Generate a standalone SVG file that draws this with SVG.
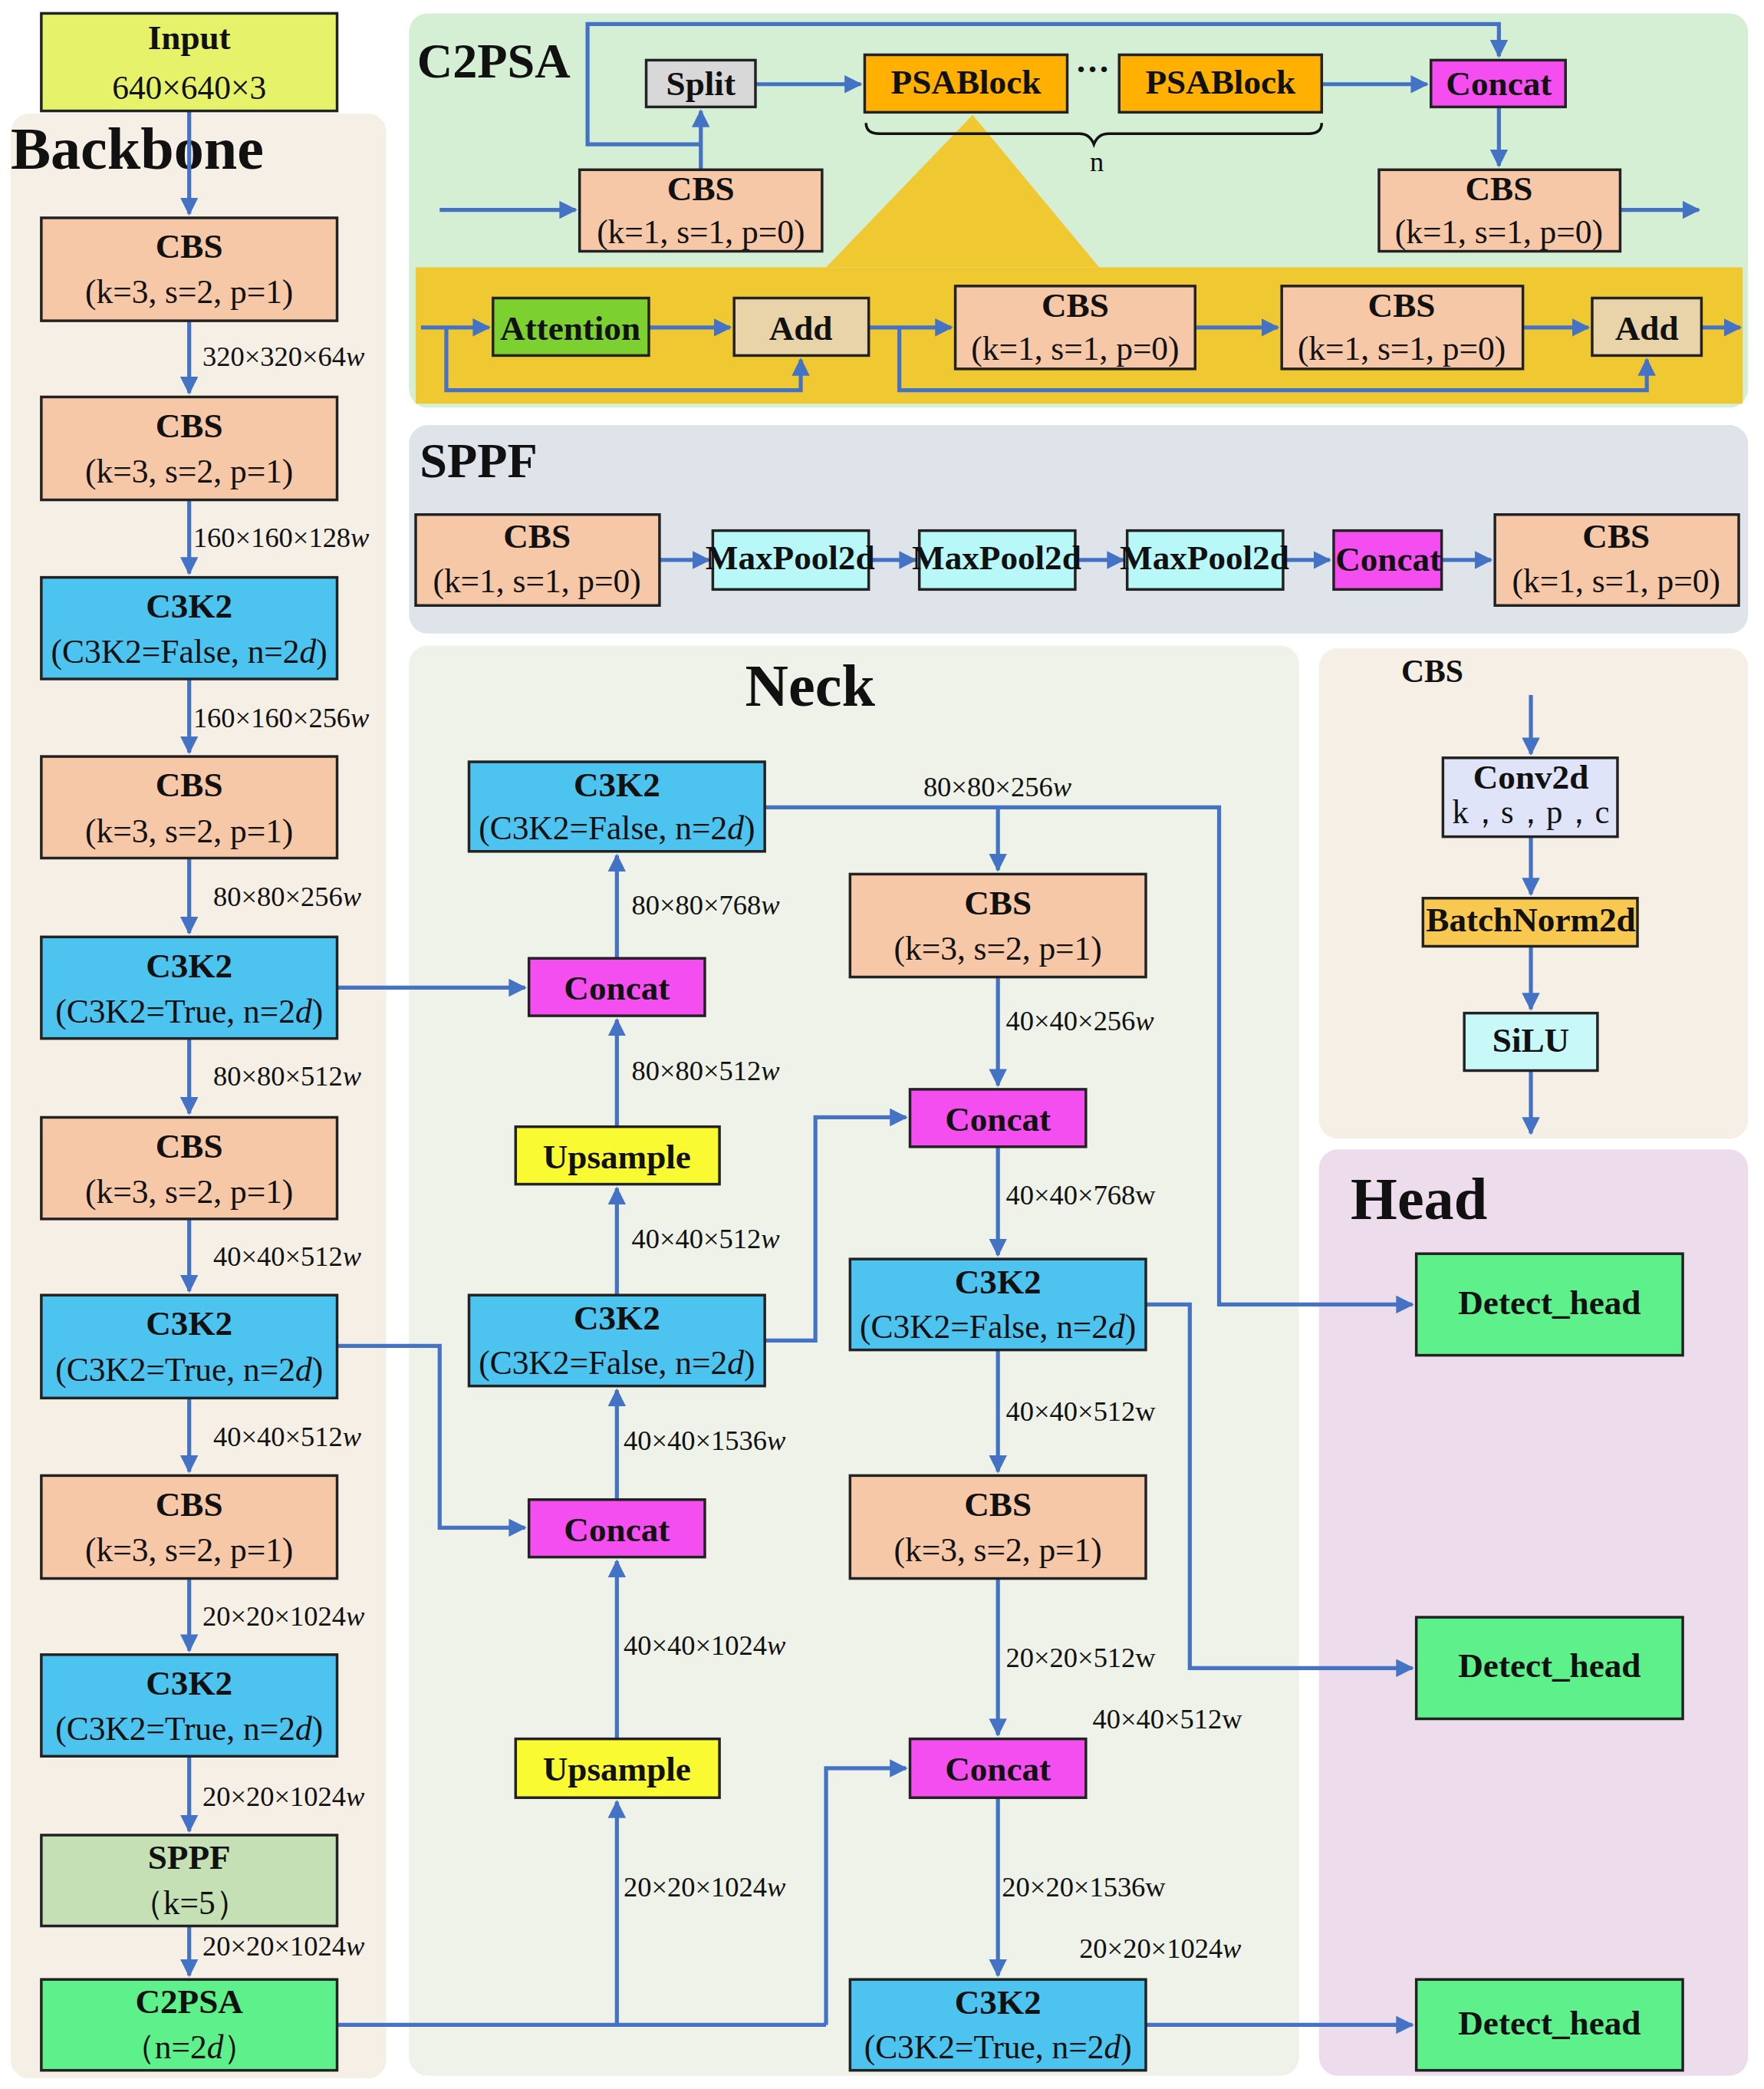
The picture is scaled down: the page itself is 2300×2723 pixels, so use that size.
<svg xmlns="http://www.w3.org/2000/svg" width="2300" height="2723" viewBox="0 0 2300 2723">
<defs>
<marker id="ah" viewBox="0 0 10 10" refX="9" refY="5" markerWidth="4.5" markerHeight="4.5" orient="auto"><path d="M0,0L10,5L0,10z" fill="#4472c4"/></marker>
<style>
.n{stroke:#222;stroke-width:2}
.t{font-family:"Liberation Serif","Times New Roman",serif;font-weight:bold;font-size:26px;text-anchor:middle;fill:#111}
.p{font-family:"Liberation Serif","Times New Roman",serif;font-size:25px;text-anchor:middle;fill:#111}
.l{font-family:"Liberation Serif","Times New Roman",serif;font-size:21px;fill:#111}
.h{font-family:"Liberation Serif","Times New Roman",serif;font-weight:bold;fill:#111}
.c{fill:none;stroke:#4472c4;stroke-width:3}
.a{marker-end:url(#ah)}
.cbs{fill:#f7c8a8}.c3{fill:#4dc3ef}.cat{fill:#f54ef0}.ups{fill:#fafa32}.det{fill:#5ef08a}
</style>
</defs>
<rect width="2300" height="2723" fill="#fff"/>
<g transform="scale(1.7372,1.7422)">
<g id="panels">
<rect x="8" y="85" width="282" height="1470" rx="14" fill="#f5efe6"/>
<rect x="307" y="10" width="1005" height="295" rx="14" fill="#d5efd5"/>
<rect x="312" y="200" width="996" height="102" fill="#f0c832"/>
<path d="M730,86L620,200H825z" fill="#f0c832"/>
<rect x="307" y="318" width="1005" height="156" rx="14" fill="#dfe3ea"/>
<rect x="307" y="483" width="668" height="1070" rx="14" fill="#eef2e8"/>
<rect x="990" y="485" width="322" height="367" rx="14" fill="#f5efe6"/>
<rect x="990" y="860" width="322" height="693" rx="14" fill="#ecdcec"/>
<text class="h" x="8" y="126" font-size="45">Backbone</text>
<text class="h" x="313" y="58" font-size="37">C2PSA</text>
<text class="h" x="315" y="357" font-size="37">SPPF</text>
<text class="h" x="608" y="528" font-size="45" text-anchor="middle">Neck</text>
<text class="h" x="1065" y="912" font-size="45" text-anchor="middle">Head</text>
<text class="h" x="1075" y="510" font-size="24" text-anchor="middle">CBS</text>
</g>
<g id="connectors">
<path class="c a" d="M142,83V160"/>
<path class="c a" d="M142,240V294"/>
<path class="c a" d="M142,374V429"/>
<path class="c a" d="M142,508V563"/>
<path class="c a" d="M142,642V698"/>
<path class="c a" d="M142,777V833"/>
<path class="c a" d="M142,912V966"/>
<path class="c a" d="M142,1046V1101"/>
<path class="c a" d="M142,1181V1235"/>
<path class="c a" d="M142,1314V1370"/>
<path class="c a" d="M142,1441V1478"/>
<path class="c a" d="M253,739H394"/>
<path class="c a" d="M253,1007H330V1143H394"/>
<path class="c" d="M253,1515H620"/>
<path class="c a" d="M463,1515V1348"/>
<path class="c a" d="M620,1515V1323H680"/>
<path class="c a" d="M463,1301V1168"/>
<path class="c a" d="M463,1122V1040"/>
<path class="c a" d="M463,969V889"/>
<path class="c a" d="M463,843V763"/>
<path class="c a" d="M463,717V640"/>
<path class="c a" d="M574,604H915V976H1060"/>
<path class="c a" d="M749,604V651"/>
<path class="c a" d="M574,1003H612V836H680"/>
<path class="c a" d="M749,731V812"/>
<path class="c a" d="M749,858V939"/>
<path class="c a" d="M860,976H893V1248H1060"/>
<path class="c a" d="M749,1010V1101"/>
<path class="c a" d="M749,1181V1298"/>
<path class="c a" d="M749,1345V1478"/>
<path class="c a" d="M860,1515H1060"/>
<path class="c a" d="M1149,520V564"/>
<path class="c a" d="M1149,626V669"/>
<path class="c a" d="M1149,708V755"/>
<path class="c a" d="M1149,801V848"/>
<path class="c a" d="M495,419H532"/>
<path class="c a" d="M652,419H687"/>
<path class="c a" d="M807,419H843"/>
<path class="c a" d="M963,419H998"/>
<path class="c a" d="M1082,419H1119"/>
<path class="c a" d="M330,157H432"/>
<path class="c a" d="M526,127V83"/>
<path class="c a" d="M526,108H441V18H1125V42"/>
<path class="c a" d="M567,63H646"/>
<path class="c a" d="M992,63H1071"/>
<path class="c a" d="M1125,80V124"/>
<path class="c a" d="M1216,157H1275"/>
<path d="M650,92Q650,100 660,100H810Q818,100 821,108Q824,100 832,100H982Q992,100 992,92" fill="none" stroke="#111" stroke-width="2"/>
<path class="c a" d="M316,245H367"/>
<path class="c a" d="M335,245V292H601V269"/>
<path class="c a" d="M487,245H548"/>
<path class="c a" d="M652,245H714"/>
<path class="c a" d="M675,245V292H1236V269"/>
<path class="c a" d="M897,245H959"/>
<path class="c a" d="M1143,245H1192"/>
<path class="c a" d="M1277,245H1306"/>
</g>
<g id="labels">
<text class="l" x="152" y="274">320×320×64<tspan font-style="italic">w</tspan></text>
<text class="l" x="145" y="409">160×160×128<tspan font-style="italic">w</tspan></text>
<text class="l" x="145" y="544">160×160×256<tspan font-style="italic">w</tspan></text>
<text class="l" x="160" y="678">80×80×256<tspan font-style="italic">w</tspan></text>
<text class="l" x="160" y="812">80×80×512<tspan font-style="italic">w</tspan></text>
<text class="l" x="160" y="947">40×40×512<tspan font-style="italic">w</tspan></text>
<text class="l" x="160" y="1082">40×40×512<tspan font-style="italic">w</tspan></text>
<text class="l" x="152" y="1216">20×20×1024<tspan font-style="italic">w</tspan></text>
<text class="l" x="152" y="1351">20×20×1024<tspan font-style="italic">w</tspan></text>
<text class="l" x="152" y="1463">20×20×1024<tspan font-style="italic">w</tspan></text>
<text class="l" x="474" y="684">80×80×768<tspan font-style="italic">w</tspan></text>
<text class="l" x="474" y="808">80×80×512<tspan font-style="italic">w</tspan></text>
<text class="l" x="474" y="934">40×40×512<tspan font-style="italic">w</tspan></text>
<text class="l" x="468" y="1085">40×40×1536<tspan font-style="italic">w</tspan></text>
<text class="l" x="468" y="1238">40×40×1024<tspan font-style="italic">w</tspan></text>
<text class="l" x="468" y="1419">20×20×1024<tspan font-style="italic">w</tspan></text>
<text class="l" x="693" y="596">80×80×256<tspan font-style="italic">w</tspan></text>
<text class="l" x="755" y="771">40×40×256<tspan font-style="italic">w</tspan></text>
<text class="l" x="755" y="901">40×40×768w</text>
<text class="l" x="755" y="1063">40×40×512w</text>
<text class="l" x="755" y="1247">20×20×512w</text>
<text class="l" x="820" y="1293">40×40×512w</text>
<text class="l" x="752" y="1419">20×20×1536w</text>
<text class="l" x="810" y="1465">20×20×1024<tspan font-style="italic">w</tspan></text>
<text class="l" x="818" y="128">n</text>
<text class="t" x="820" y="60">···</text>
</g>
<g id="input"><rect class="n" x="31" y="10" width="222" height="73" fill="#e6f26a"/><text class="t" x="142" y="37">Input</text><text class="p" x="142" y="74">640×640×3</text></g>
<g id="b1"><rect class="n cbs" x="31" y="163" width="222" height="77"/><text class="t" x="142" y="193">CBS</text><text class="p" x="142" y="227">(k=3, s=2, p=1)</text></g>
<g id="b2"><rect class="n cbs" x="31" y="297" width="222" height="77"/><text class="t" x="142" y="327">CBS</text><text class="p" x="142" y="361">(k=3, s=2,  p=1)</text></g>
<g id="b3"><rect class="n c3" x="31" y="432" width="222" height="76"/><text class="t" x="142" y="462">C3K2</text><text class="p" x="142" y="496" font-size="23">(C3K2=False, n=2<tspan font-style="italic">d</tspan>)</text></g>
<g id="b4"><rect class="n cbs" x="31" y="566" width="222" height="76"/><text class="t" x="142" y="596">CBS</text><text class="p" x="142" y="630">(k=3, s=2, p=1)</text></g>
<g id="b5"><rect class="n c3" x="31" y="701" width="222" height="76"/><text class="t" x="142" y="731">C3K2</text><text class="p" x="142" y="765" font-size="23">(C3K2=True, n=2<tspan font-style="italic">d</tspan>)</text></g>
<g id="b6"><rect class="n cbs" x="31" y="836" width="222" height="76"/><text class="t" x="142" y="866">CBS</text><text class="p" x="142" y="900">(k=3, s=2, p=1)</text></g>
<g id="b7"><rect class="n c3" x="31" y="969" width="222" height="77"/><text class="t" x="142" y="999">C3K2</text><text class="p" x="142" y="1033" font-size="23">(C3K2=True, n=2<tspan font-style="italic">d</tspan>)</text></g>
<g id="b8"><rect class="n cbs" x="31" y="1104" width="222" height="77"/><text class="t" x="142" y="1134">CBS</text><text class="p" x="142" y="1168">(k=3, s=2, p=1)</text></g>
<g id="b9"><rect class="n c3" x="31" y="1238" width="222" height="76"/><text class="t" x="142" y="1268">C3K2</text><text class="p" x="142" y="1302" font-size="23">(C3K2=True, n=2<tspan font-style="italic">d</tspan>)</text></g>
<g id="b10"><rect class="n" x="31" y="1373" width="222" height="68" fill="#c5e0b4"/><text class="t" x="142" y="1398">SPPF</text><text class="p" x="142" y="1432">（k=5）</text></g>
<g id="b11"><rect class="n det" x="31" y="1481" width="222" height="68"/><text class="t" x="142" y="1506">C2PSA</text><text class="p" x="142" y="1540">（n=2<tspan font-style="italic">d</tspan>）</text></g>
<g id="n1"><rect class="n c3" x="352" y="570" width="222" height="67"/><text class="t" x="463" y="596">C3K2</text><text class="p" x="463" y="628" font-size="23">(C3K2=False, n=2<tspan font-style="italic">d</tspan>)</text></g>
<g id="n2"><rect class="n cat" x="397" y="717" width="132" height="43"/><text class="t" x="463" y="748">Concat</text></g>
<g id="n3"><rect class="n ups" x="387" y="843" width="153" height="43"/><text class="t" x="463" y="874">Upsample</text></g>
<g id="n4"><rect class="n c3" x="352" y="969" width="222" height="68"/><text class="t" x="463" y="995">C3K2</text><text class="p" x="463" y="1028" font-size="23">(C3K2=False, n=2<tspan font-style="italic">d</tspan>)</text></g>
<g id="n5"><rect class="n cat" x="397" y="1122" width="132" height="43"/><text class="t" x="463" y="1153">Concat</text></g>
<g id="n6"><rect class="n ups" x="387" y="1301" width="153" height="44"/><text class="t" x="463" y="1332">Upsample</text></g>
<g id="n7"><rect class="n cbs" x="638" y="654" width="222" height="77"/><text class="t" x="749" y="684">CBS</text><text class="p" x="749" y="718">(k=3, s=2, p=1)</text></g>
<g id="n8"><rect class="n cat" x="683" y="815" width="132" height="43"/><text class="t" x="749" y="846">Concat</text></g>
<g id="n9"><rect class="n c3" x="638" y="942" width="222" height="68"/><text class="t" x="749" y="968">C3K2</text><text class="p" x="749" y="1001" font-size="23">(C3K2=False, n=2<tspan font-style="italic">d</tspan>)</text></g>
<g id="n10"><rect class="n cbs" x="638" y="1104" width="222" height="77"/><text class="t" x="749" y="1134">CBS</text><text class="p" x="749" y="1168">(k=3, s=2, p=1)</text></g>
<g id="n11"><rect class="n cat" x="683" y="1301" width="132" height="44"/><text class="t" x="749" y="1332">Concat</text></g>
<g id="n12"><rect class="n c3" x="638" y="1481" width="222" height="68"/><text class="t" x="749" y="1507">C3K2</text><text class="p" x="749" y="1540" font-size="23">(C3K2=True, n=2<tspan font-style="italic">d</tspan>)</text></g>
<g id="h1"><rect class="n det" x="1063" y="938" width="200" height="76"/><text class="t" x="1163" y="983">Detect_head</text></g>
<g id="h2"><rect class="n det" x="1063" y="1210" width="200" height="76"/><text class="t" x="1163" y="1255">Detect_head</text></g>
<g id="h3"><rect class="n det" x="1063" y="1481" width="200" height="68"/><text class="t" x="1163" y="1522">Detect_head</text></g>
<g id="conv2d"><rect class="n" x="1083" y="567" width="131" height="59" fill="#e0e4f8"/><text class="t" x="1149" y="590" font-size="21">Conv2d</text><text class="p" x="1149" y="616" font-size="17" textLength="118" lengthAdjust="spacingAndGlyphs">k，s，p，c</text></g>
<g id="bn"><rect class="n" x="1068" y="672" width="161" height="36" fill="#f8c850"/><text class="t" x="1149" y="697" font-size="20">BatchNorm2d</text></g>
<g id="silu"><rect class="n" x="1099" y="758" width="100" height="43" fill="#c8f8f8"/><text class="t" x="1149" y="787" font-size="21">SiLU</text></g>
<g id="s1"><rect class="n cbs" x="312" y="385" width="183" height="68"/><text class="t" x="403" y="410">CBS</text><text class="p" x="403" y="443">(k=1, s=1, p=0)</text></g>
<g id="s2"><rect class="n" x="535" y="397" width="117" height="44" fill="#b8f8f8"/><text class="t" x="593" y="426" font-size="19">MaxPool2d</text></g>
<g id="s3"><rect class="n" x="690" y="397" width="117" height="44" fill="#b8f8f8"/><text class="t" x="748" y="426" font-size="19">MaxPool2d</text></g>
<g id="s4"><rect class="n" x="846" y="397" width="117" height="44" fill="#b8f8f8"/><text class="t" x="904" y="426" font-size="19">MaxPool2d</text></g>
<g id="s5"><rect class="n cat" x="1001" y="397" width="81" height="44"/><text class="t" x="1042" y="427" font-size="20">Concat</text></g>
<g id="s6"><rect class="n cbs" x="1122" y="385" width="183" height="68"/><text class="t" x="1213" y="410">CBS</text><text class="p" x="1213" y="443">(k=1, s=1, p=0)</text></g>
<g id="p1"><rect class="n" x="485" y="45" width="82" height="35" fill="#d8d8d8"/><text class="t" x="526" y="71">Split</text></g>
<g id="p2"><rect class="n" x="649" y="41" width="152" height="43" fill="#ffb000"/><text class="t" x="725" y="70" font-size="22">PSABlock</text></g>
<g id="p3"><rect class="n" x="840" y="41" width="152" height="43" fill="#ffb000"/><text class="t" x="916" y="70" font-size="22">PSABlock</text></g>
<g id="p4"><rect class="n cat" x="1074" y="45" width="101" height="35"/><text class="t" x="1125" y="71">Concat</text></g>
<g id="p5"><rect class="n cbs" x="435" y="127" width="182" height="61"/><text class="t" x="526" y="150">CBS</text><text class="p" x="526" y="182">(k=1, s=1, p=0)</text></g>
<g id="p6"><rect class="n cbs" x="1035" y="127" width="181" height="61"/><text class="t" x="1125" y="150">CBS</text><text class="p" x="1125" y="182">(k=1, s=1, p=0)</text></g>
<g id="y1"><rect class="n" x="370" y="223" width="117" height="43" fill="#7cd030"/><text class="t" x="428" y="254">Attention</text></g>
<g id="y2"><rect class="n" x="551" y="223" width="101" height="43" fill="#e8d4a8"/><text class="t" x="601" y="254">Add</text></g>
<g id="y3"><rect class="n cbs" x="717" y="214" width="180" height="62"/><text class="t" x="807" y="237">CBS</text><text class="p" x="807" y="269">(k=1, s=1, p=0)</text></g>
<g id="y4"><rect class="n cbs" x="962" y="214" width="181" height="62"/><text class="t" x="1052" y="237">CBS</text><text class="p" x="1052" y="269">(k=1, s=1, p=0)</text></g>
<g id="y5"><rect class="n" x="1195" y="223" width="82" height="43" fill="#e8d4a8"/><text class="t" x="1236" y="254">Add</text></g>
</g>
</svg>
